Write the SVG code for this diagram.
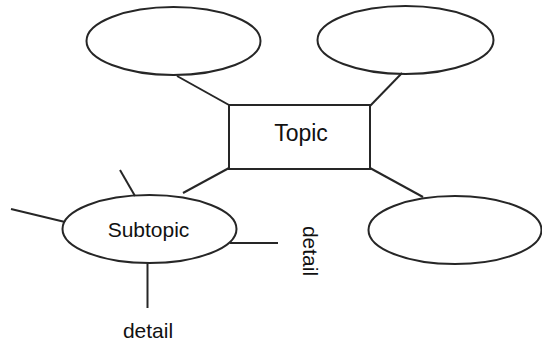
<svg xmlns="http://www.w3.org/2000/svg" width="542" height="347" viewBox="0 0 542 347">
<style>
.shape{fill:none;stroke:#262626;stroke-width:2}
.line{stroke:#262626;stroke-width:2;fill:none}
.lbl{font-family:"Liberation Sans",Arial,sans-serif;fill:#111;text-anchor:middle}
</style>
<rect width="542" height="347" fill="#ffffff"/>
<g id="connectors">
<line class="line" x1="177" y1="76" x2="229" y2="105"/>
<line class="line" x1="402" y1="73" x2="370" y2="106"/>
<line class="line" x1="229" y1="168" x2="183" y2="193"/>
<line class="line" x1="370" y1="168" x2="423" y2="197"/>
<line class="line" x1="120" y1="170" x2="135" y2="196"/>
<line class="line" x1="11" y1="209" x2="65" y2="222"/>
<line class="line" x1="230" y1="243" x2="278" y2="243"/>
<line class="line" x1="147.5" y1="262" x2="147.5" y2="308"/>
</g>
<g id="topic">
<rect class="shape" x="229" y="105" width="141" height="64"/>
<text class="lbl" x="301" y="141" font-size="23">Topic</text>
</g>
<g id="oval-top-left">
<ellipse class="shape" cx="173.5" cy="41" rx="87" ry="34"/>
</g>
<g id="oval-top-right">
<ellipse class="shape" cx="405.5" cy="40" rx="88" ry="34"/>
</g>
<g id="subtopic">
<ellipse class="shape" cx="149.5" cy="229" rx="87" ry="34"/>
<text class="lbl" x="148.5" y="237" font-size="21">Subtopic</text>
</g>
<g id="oval-bottom-right">
<ellipse class="shape" cx="455" cy="230" rx="86.5" ry="34"/>
</g>
<g id="detail-right">
<text class="lbl" font-size="21" transform="translate(303,251) rotate(90)">detail</text>
</g>
<g id="detail-bottom">
<text class="lbl" x="148" y="338" font-size="21">detail</text>
</g>
</svg>
